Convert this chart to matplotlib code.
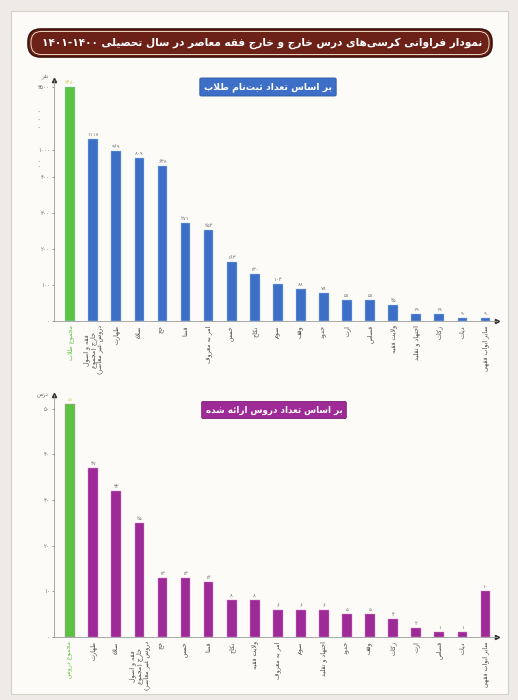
import numpy as np
import matplotlib
matplotlib.use("Agg")
import matplotlib.pyplot as plt
from matplotlib.patches import FancyBboxPatch, Rectangle

# ---------------- data ----------------
title_text = "نمودار فراوانی کرسی‌های درس خارج و خارج فقه معاصر در سال تحصیلی ۱۴۰۰-۱۴۰۱"
sub1_text = "بر اساس تعداد ثبت‌نام طلاب"
sub2_text = "بر اساس تعداد دروس ارائه شده"

cats_students = [
    "مجموع طلاب", "فقه و اصول\nخارج (مجموع\nدروس غیر معاصر)", "طهارت", "صلاة", "حج", "قضا",
    "امر به معروف", "خمس", "نکاح", "صوم", "وقف", "حدود", "ارث", "قصاص",
    "ولایت فقیه", "اجتهاد و تقلید", "زکات", "دیات", "سایر ابواب فقهی",
]
students = [3480, 1118, 969, 809, 638, 271, 252, 163, 130, 103, 88, 78, 57, 57, 45, 19, 19, 9, 9]

cats_courses = [
    "مجموع دروس", "طهارت", "صلاة", "فقه و اصول\nخارج (مجموع\nدروس غیر معاصر)", "حج", "خمس",
    "قضا", "نکاح", "ولایت فقیه", "امر به معروف", "صوم", "اجتهاد و تقلید", "حدود",
    "وقف", "زکات", "ارث", "قصاص", "دیات", "سایر ابواب فقهی",
]
courses = [51, 37, 32, 25, 13, 13, 12, 8, 8, 6, 6, 6, 5, 5, 4, 2, 1, 1, 10]

y1_ticks = [0, 100, 200, 300, 400, 1000, 3500]
y2_ticks = [0, 10, 20, 30, 40, 50]
y1_unit = "نفر"
y2_unit = "درس"

# ---------------- Persian shaping helper ----------------
FORMS = {
    'ا': (0xFE8D, 0xFE8E, None, None), 'آ': (0xFE81, 0xFE82, None, None),
    'أ': (0xFE83, 0xFE84, None, None), 'ؤ': (0xFE85, 0xFE86, None, None),
    'ئ': (0xFE89, 0xFE8A, 0xFE8B, 0xFE8C),
    'ب': (0xFE8F, 0xFE90, 0xFE91, 0xFE92), 'پ': (0xFB56, 0xFB57, 0xFB58, 0xFB59),
    'ت': (0xFE95, 0xFE96, 0xFE97, 0xFE98), 'ث': (0xFE99, 0xFE9A, 0xFE9B, 0xFE9C),
    'ج': (0xFE9D, 0xFE9E, 0xFE9F, 0xFEA0), 'چ': (0xFB7A, 0xFB7B, 0xFB7C, 0xFB7D),
    'ح': (0xFEA1, 0xFEA2, 0xFEA3, 0xFEA4), 'خ': (0xFEA5, 0xFEA6, 0xFEA7, 0xFEA8),
    'د': (0xFEA9, 0xFEAA, None, None), 'ذ': (0xFEAB, 0xFEAC, None, None),
    'ر': (0xFEAD, 0xFEAE, None, None), 'ز': (0xFEAF, 0xFEB0, None, None),
    'ژ': (0xFB8A, 0xFB8B, None, None),
    'س': (0xFEB1, 0xFEB2, 0xFEB3, 0xFEB4), 'ش': (0xFEB5, 0xFEB6, 0xFEB7, 0xFEB8),
    'ص': (0xFEB9, 0xFEBA, 0xFEBB, 0xFEBC), 'ض': (0xFEBD, 0xFEBE, 0xFEBF, 0xFEC0),
    'ط': (0xFEC1, 0xFEC2, 0xFEC3, 0xFEC4), 'ظ': (0xFEC5, 0xFEC6, 0xFEC7, 0xFEC8),
    'ع': (0xFEC9, 0xFECA, 0xFECB, 0xFECC), 'غ': (0xFECD, 0xFECE, 0xFECF, 0xFED0),
    'ف': (0xFED1, 0xFED2, 0xFED3, 0xFED4), 'ق': (0xFED5, 0xFED6, 0xFED7, 0xFED8),
    'ک': (0xFB8E, 0xFB8F, 0xFB90, 0xFB91), 'گ': (0xFB92, 0xFB93, 0xFB94, 0xFB95),
    'ل': (0xFEDD, 0xFEDE, 0xFEDF, 0xFEE0), 'م': (0xFEE1, 0xFEE2, 0xFEE3, 0xFEE4),
    'ن': (0xFEE5, 0xFEE6, 0xFEE7, 0xFEE8), 'و': (0xFEED, 0xFEEE, None, None),
    'ه': (0xFEE9, 0xFEEA, 0xFEEB, 0xFEEC), 'ی': (0xFBFC, 0xFBFD, 0xFBFE, 0xFBFF),
    'ة': (0xFE93, 0xFE94, None, None),
}
LAM_ALEF = {'ا': (0xFEFB, 0xFEFC), 'آ': (0xFEF5, 0xFEF6), 'أ': (0xFEF7, 0xFEF8)}
PDIG = str.maketrans("0123456789", "۰۱۲۳۴۵۶۷۸۹")


def dual(c):
    return c in FORMS and FORMS[c][2] is not None


def shape_line(s):
    chars = []
    i = 0
    while i < len(s):
        c = s[i]
        if c == 'ل' and i + 1 < len(s) and s[i + 1] in LAM_ALEF:
            chars.append(('LA', s[i + 1]))
            i += 2
        else:
            chars.append(c)
            i += 1
    out = []
    for k, c in enumerate(chars):
        prev = chars[k - 1] if k > 0 else None
        nxt = chars[k + 1] if k + 1 < len(chars) else None
        prev_joins = prev is not None and not isinstance(prev, tuple) and dual(prev)
        if isinstance(c, tuple):
            iso, fin = LAM_ALEF[c[1]]
            out.append(chr(fin if prev_joins else iso))
            continue
        if c not in FORMS:
            out.append(c)
            continue
        nxt_ok = nxt is not None and (isinstance(nxt, tuple) or nxt in FORMS)
        jn = dual(c) and nxt_ok
        iso, fin, ini, med = FORMS[c]
        if prev_joins and jn:
            out.append(chr(med))
        elif prev_joins:
            out.append(chr(fin))
        elif jn:
            out.append(chr(ini))
        else:
            out.append(chr(iso))
    out = [ch for ch in out if ch != '\u200c']
    vis = out[::-1]
    res = []
    run = []
    for ch in vis:
        if ch in "۰۱۲۳۴۵۶۷۸۹0123456789":
            run.append(ch)
        else:
            if run:
                res.extend(run[::-1])
                run = []
            res.append({'(': ')', ')': '('}.get(ch, ch))
    if run:
        res.extend(run[::-1])
    return "".join(res)


def fa(s):
    return "\n".join(shape_line(l) for l in s.split("\n"))


def pnum(v):
    return str(v).translate(PDIG)


# ---------------- figure ----------------
plt.rcParams['font.family'] = ['DejaVu Sans']
W, H = 518, 700
fig = plt.figure(figsize=(W / 100, H / 100), dpi=100)
fig.patch.set_facecolor('#EEEBE6')
fig.add_artist(Rectangle((11 / W, 1 - 694 / H), 497 / W, 683 / H, transform=fig.transFigure,
                         facecolor='#FDFBF8', edgecolor='#D5D0C8', lw=0.8, zorder=-10))

# title banner
fig.add_artist(FancyBboxPatch((28 / W, 1 - 57 / H), 464 / W, 28 / H, transform=fig.transFigure,
                              boxstyle="round,pad=0,rounding_size=0.025", mutation_aspect=518 / 700,
                              facecolor='#6B2117', edgecolor='#3E120C', lw=1.2, zorder=-5))
fig.add_artist(FancyBboxPatch((31 / W, 1 - 54.5 / H), 458 / W, 23 / H, transform=fig.transFigure,
                              boxstyle="round,pad=0,rounding_size=0.02", mutation_aspect=518 / 700,
                              facecolor='none', edgecolor='#E9D8C4', lw=0.7, zorder=-4))
fig.text(262 / W, 1 - 43 / H, fa(title_text), color='white', fontsize=7.6, fontweight='bold',
         ha='center', va='center')

BLUE = '#3D6FC6'
GREEN = '#5BC340'
PURPLE = '#9E2A98'
GRAY = '#6E6E6E'

LEFT = 54 / W
AW = (497 - 54) / W

# ---------- top chart ----------
xs_b = [0, 400, 1000, 1200, 3500, 5000]
ys_b = [0, 400, 475, 525, 650, 725]
fwd = lambda v: np.interp(v, xs_b, ys_b)
inv = lambda d: np.interp(d, ys_b, xs_b)

ax1 = fig.add_axes([LEFT, 1 - 321 / H, AW, (321 - 80) / H])
ax1.set_facecolor('none')
ax1.set_yscale('function', functions=(fwd, inv))
x1 = np.arange(len(students))
cols1 = [GREEN] + [BLUE] * (len(students) - 1)
ax1.bar(x1, students, width=0.42, color=cols1, edgecolor='#9CC3EE', linewidth=0.3, zorder=2)
ax1.set_ylim(0, 3880)
ax1.set_xlim(-0.7, 18.5)
for xi, v in zip(x1, students):
    ax1.annotate(pnum(v), (xi, v), xytext=(0, 1.5), textcoords='offset points', ha='center',
                 va='bottom', fontsize=3.8, color='#C9D25A' if xi == 0 else GRAY)
ax1.set_yticks(y1_ticks)
ax1.set_yticklabels([pnum(t) for t in y1_ticks])
ax1.yaxis.set_minor_locator(matplotlib.ticker.NullLocator())
ax1.set_xticks(x1)
ax1.set_xticklabels([fa(c) for c in cats_students], rotation=90, fontsize=4.6, va='top',
                    linespacing=1.0)
ax1.get_xticklabels()[0].set_color(GREEN)
for lbl in ax1.get_xticklabels()[1:]:
    lbl.set_color('#444444')
ax1.tick_params(axis='y', labelsize=4, colors=GRAY, length=1.5, width=0.5, pad=1.5)
ax1.tick_params(axis='x', length=0, pad=3)
for s in ['top', 'right']:
    ax1.spines[s].set_visible(False)
for s in ['left', 'bottom']:
    ax1.spines[s].set_color('#9A9A9A')
    ax1.spines[s].set_linewidth(0.6)
ax1.plot([1], [0], marker='>', ms=3, color='#333333', transform=ax1.transAxes, clip_on=False)
ax1.plot([0], [1], marker='^', ms=3, color='#333333', transform=ax1.transAxes, clip_on=False)
ax1.text(-0.012, 1.01, fa(y1_unit), transform=ax1.transAxes, fontsize=4, color=GRAY,
         ha='right', va='center')
for py in [112, 120, 128, 162, 167]:
    ax1.text(-0.035, (321 - py) / 241, '·', transform=ax1.transAxes, fontsize=5, color=GRAY,
             ha='center', va='center')
fig.text(268 / W, 1 - 87 / H, fa(sub1_text), color='white', fontsize=6.7, fontweight='bold',
         ha='center', va='center',
         bbox=dict(boxstyle='round,pad=0.45,rounding_size=0.15', facecolor=BLUE,
                   edgecolor='#2E59A8', lw=0.6))

# ---------- bottom chart ----------
ax2 = fig.add_axes([LEFT, 1 - 637 / H, AW, (637 - 395) / H])
ax2.set_facecolor('none')
x2 = np.arange(len(courses))
cols2 = [GREEN] + [PURPLE] * (len(courses) - 1)
ax2.bar(x2, courses, width=0.42, color=cols2, edgecolor='#D58BD0', linewidth=0.3, zorder=2)
ax2.set_ylim(0, 53)
ax2.set_xlim(-0.7, 18.5)
for xi, v in zip(x2, courses):
    ax2.annotate(pnum(v), (xi, v), xytext=(0, 1.5), textcoords='offset points', ha='center',
                 va='bottom', fontsize=3.8, color='#C9D25A' if xi == 0 else GRAY)
ax2.set_yticks(y2_ticks)
ax2.set_yticklabels([pnum(t) for t in y2_ticks])
ax2.set_xticks(x2)
ax2.set_xticklabels([fa(c) for c in cats_courses], rotation=90, fontsize=4.6, va='top',
                    linespacing=1.0)
ax2.get_xticklabels()[0].set_color(GREEN)
for lbl in ax2.get_xticklabels()[1:]:
    lbl.set_color('#444444')
ax2.tick_params(axis='y', labelsize=4, colors=GRAY, length=1.5, width=0.5, pad=1.5)
ax2.tick_params(axis='x', length=0, pad=3)
for s in ['top', 'right']:
    ax2.spines[s].set_visible(False)
for s in ['left', 'bottom']:
    ax2.spines[s].set_color('#9A9A9A')
    ax2.spines[s].set_linewidth(0.6)
ax2.plot([1], [0], marker='>', ms=3, color='#333333', transform=ax2.transAxes, clip_on=False)
ax2.plot([0], [1], marker='^', ms=3, color='#333333', transform=ax2.transAxes, clip_on=False)
ax2.text(-0.012, 1.0, fa(y2_unit), transform=ax2.transAxes, fontsize=4, color=GRAY,
         ha='right', va='center')
fig.text(274 / W, 1 - 410 / H, fa(sub2_text), color='white', fontsize=6.3, fontweight='bold',
         ha='center', va='center',
         bbox=dict(boxstyle='round,pad=0.45,rounding_size=0.15', facecolor=PURPLE,
                   edgecolor='#7A1F75', lw=0.6))

fig.savefig('out.png', dpi=100, facecolor=fig.get_facecolor())
